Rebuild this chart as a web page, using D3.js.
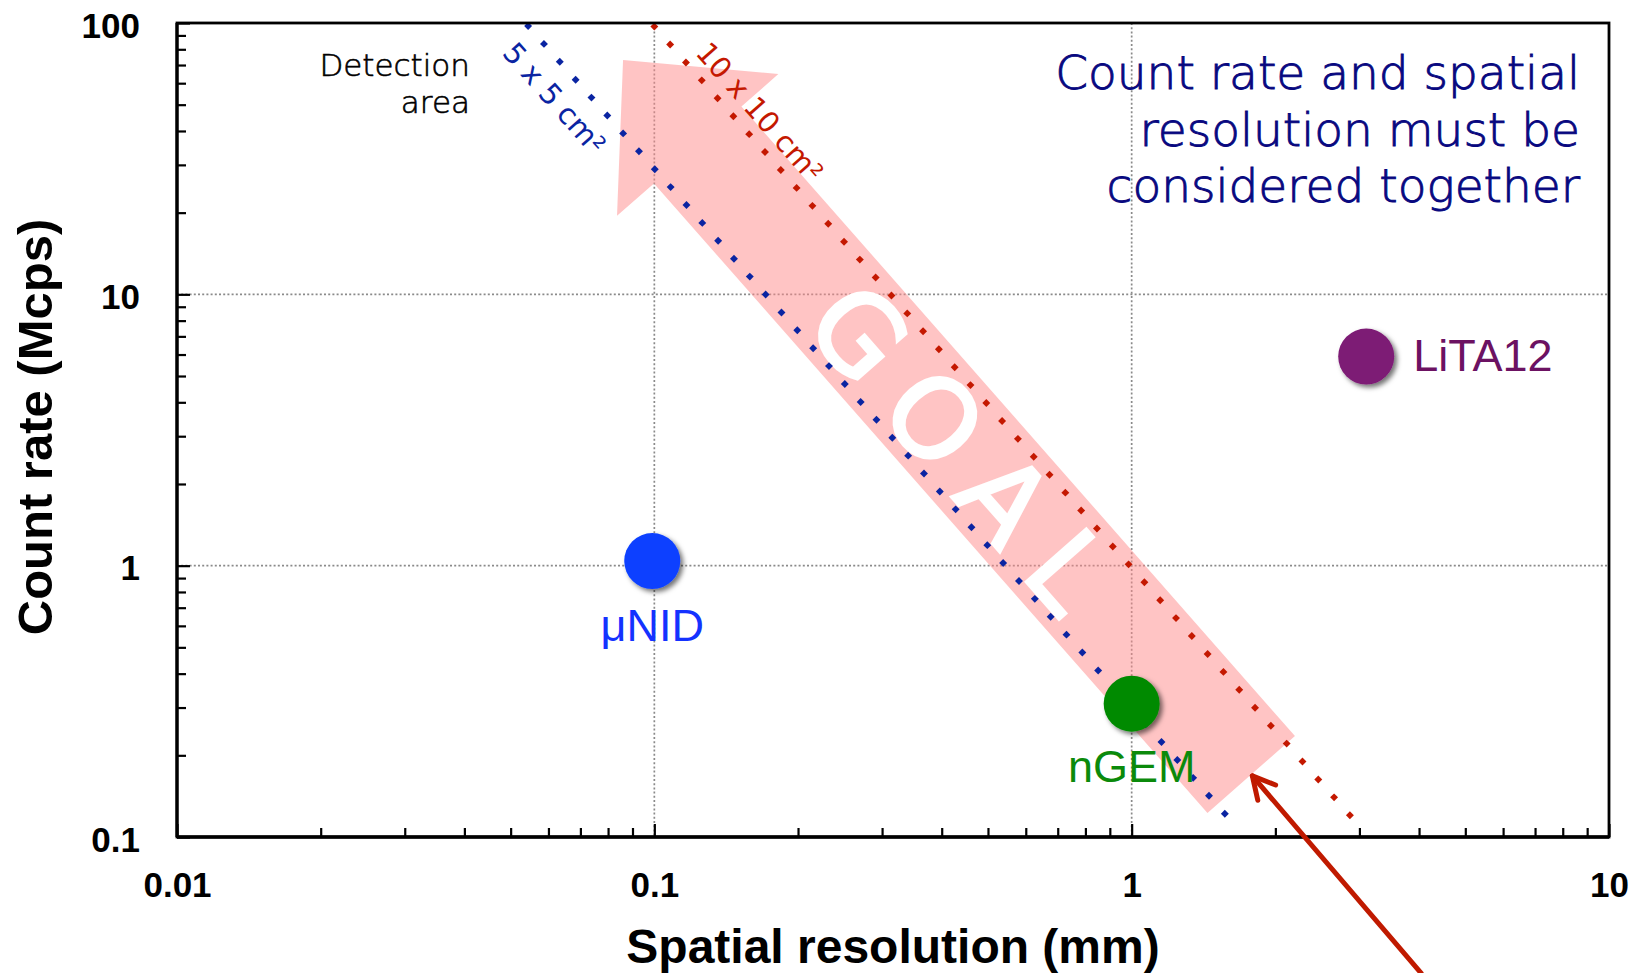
<!DOCTYPE html>
<html>
<head>
<meta charset="utf-8">
<script src="https://cdn.jsdelivr.net/npm/d3@7"></script>
<style>
  html, body { margin: 0; padding: 0; background: #fff; overflow: hidden; }
  svg { display: block; }
</style>
</head>
<body>
<svg id="chart" width="1643" height="973"></svg>
<script>
// Neutron detectors: spatial resolution (mm) against count rate (Mcps)
const detectorNames = ["μNID", "nGEM", "LiTA12"];
const resolutionMm = [0.099, 1.0, 3.1];
const countRateMcps = [1.04, 0.31, 5.9];
const detectorColors = ["#0a40ff", "#008a00", "#7d1a75"];
const detectorTextColors = ["#1432ff", "#0b8a0b", "#6c1262"];

// Detection-area limits, end points of each dotted line (resolution, rate)
const areaLabels = ["5 x 5 cm²", "10 x 10 cm²"];
const areaLineRes = [[0.0544, 1.6], [0.1, 2.93]];
const areaLineRate = [[97.5, 0.117], [97, 0.115]];
const areaLabelRes = [0.055, 0.117];
const areaLabelRate = [96, 73];
const areaColors = ["#0a24a2", "#c41800"];

// GOAL arrow: tail, then tip
const goalRes = [1.78, 0.086];
const goalRate = [0.17, 73];

// Pointer arrow: tail below the frame, head at the GOAL arrow's tail
const pointerRes = [4.04, 1.79];
const pointerRate = [0.0315, 0.168];

// Axis ticks
const xMajor = [0.01, 0.1, 1, 10];
const yMajor = [0.1, 1, 10, 100];
const xTickLabels = ["0.01", "0.1", "1", "10"];
const yTickLabels = ["0.1", "1", "10", "100"];

const noteLines = ["Count rate and spatial", "resolution must be", "considered together"];
const areaHeading = ["Detection", "area"];

const svg = d3.select("#chart");
const L = 177, R = 1609, T = 23, B = 837;

const x = d3.scaleLog().domain([0.01, 10]).range([L, R]);
const y = d3.scaleLog().domain([0.1, 100]).range([B, T]);

svg.append("rect").attr("width", 1643).attr("height", 973).attr("fill", "#fff");

const defs = svg.append("defs");
const sh = defs.append("filter").attr("id", "shadow")
  .attr("x", "-50%").attr("y", "-50%").attr("width", "200%").attr("height", "200%");
sh.append("feDropShadow").attr("dx", 3).attr("dy", 3).attr("stdDeviation", 2.5)
  .attr("flood-color", "#000").attr("flood-opacity", 0.55);

const AX_FONT = "'Liberation Sans', Arial, Helvetica, sans-serif";
const NOTE_FONT = "'DejaVu Sans', Verdana, sans-serif";

// Grid at inner decades
const grid = svg.append("g").attr("stroke", "#8a8a8a").attr("stroke-width", 1.7)
  .attr("stroke-dasharray", "2 2.2");
grid.selectAll("line.vx").data(xMajor.filter(v => v > 0.01 && v < 10)).join("line")
  .attr("x1", d => x(d)).attr("x2", d => x(d)).attr("y1", T).attr("y2", B);
grid.selectAll("line.hy").data(yMajor.filter(v => v > 0.1 && v < 100)).join("line")
  .attr("y1", d => y(d)).attr("y2", d => y(d)).attr("x1", L).attr("x2", R);

// GOAL arrow
{
  const t = [x(goalRes[0]), y(goalRate[0])];
  const p = [x(goalRes[1]), y(goalRate[1])];
  const len = Math.hypot(p[0] - t[0], p[1] - t[1]);
  const u = [(p[0] - t[0]) / len, (p[1] - t[1]) / len];
  const n = [-u[1], u[0]];
  const shaft = 58.25, head = 107.4, headLen = 113;
  const b = [p[0] - u[0] * headLen, p[1] - u[1] * headLen];
  const at = (o, k) => [o[0] + n[0] * k, o[1] + n[1] * k];
  const pts = [at(t, shaft), at(b, shaft), at(b, head), p, at(b, -head), at(b, -shaft), at(t, -shaft)];
  svg.append("path")
    .attr("d", d3.line()(pts) + "Z")
    .attr("fill", "#ff8a8a").attr("fill-opacity", 0.5);

  const ang = Math.atan2(-u[1], -u[0]) * 180 / Math.PI;
  const c = [t[0] + u[0] * 438, t[1] + u[1] * 438];
  svg.append("text")
    .attr("transform", `translate(${c[0]},${c[1]}) rotate(${ang})`)
    .attr("text-anchor", "middle")
    .attr("dx", 14).attr("dy", 42)
    .attr("font-family", NOTE_FONT).attr("font-size", 110)
    .attr("letter-spacing", 28)
    .attr("fill", "#fff").attr("stroke", "#fff").attr("stroke-width", 3)
    .text("GOAL");
}

// Detection-area lines, drawn as diamonds spaced along each path
const areaLine = d3.line().x(d => x(d[0])).y(d => y(d[1]));
areaLabels.forEach((lab, i) => {
  const pts = areaLineRes[i].map((r, j) => [r, areaLineRate[i][j]]);
  const path = svg.append("path").attr("d", areaLine(pts))
    .attr("fill", "none").attr("stroke", "none");
  const node = path.node();
  const total = node.getTotalLength();
  const step = 23.9;
  const spots = d3.range(0, total + 0.5, step).map(s => node.getPointAtLength(s));
  svg.append("g").selectAll("rect").data(spots).join("rect")
    .attr("x", -2.8).attr("y", -2.8).attr("width", 5.6).attr("height", 5.6)
    .attr("transform", d => `translate(${d.x},${d.y}) rotate(45)`)
    .attr("fill", areaColors[i]);

  const a0 = [x(pts[0][0]), y(pts[0][1])], a1 = [x(pts[1][0]), y(pts[1][1])];
  const ang = Math.atan2(a1[1] - a0[1], a1[0] - a0[0]) * 180 / Math.PI;
  const ax = x(areaLabelRes[i]), ay = y(areaLabelRate[i]);
  svg.append("text")
    .attr("transform", `translate(${ax},${ay}) rotate(${ang})`)
    .attr("y", i === 0 ? 39 : -10)
    .attr("font-family", NOTE_FONT).attr("font-size", 29)
    .attr("fill", areaColors[i])
    .text(lab);
});

// Axes: labels outside, ticks inside
const isMajor = (arr, v) => arr.some(m => Math.abs(Math.log10(m) - Math.log10(v)) < 1e-6);

const xTicks = x.ticks();
const yTicks = y.ticks();

const xIn = svg.append("g").attr("transform", `translate(0,${B})`)
  .call(d3.axisTop(x).tickValues(xTicks).tickFormat("").tickSizeOuter(0)
    .tickSize(9));
xIn.selectAll(".tick line").attr("y2", d => isMajor(xMajor, d) ? -13 : -9)
  .attr("stroke", "#000").attr("stroke-width", 2.2);
xIn.select(".domain").remove();

const yIn = svg.append("g").attr("transform", `translate(${L},0)`)
  .call(d3.axisRight(y).tickValues(yTicks).tickFormat("").tickSizeOuter(0)
    .tickSize(9));
yIn.selectAll(".tick line").attr("x2", d => isMajor(yMajor, d) ? 13 : 9)
  .attr("stroke", "#000").attr("stroke-width", 2.2);
yIn.select(".domain").remove();

const xLab = svg.append("g").attr("transform", `translate(0,${B})`)
  .call(d3.axisBottom(x).tickValues(xMajor).tickSize(0).tickPadding(35)
    .tickFormat((d, i) => xTickLabels[i]));
xLab.select(".domain").remove();
xLab.selectAll("text").attr("font-family", AX_FONT).attr("font-size", 35)
  .attr("font-weight", "bold").attr("fill", "#000");

const yLab = svg.append("g").attr("transform", `translate(${L},0)`)
  .call(d3.axisLeft(y).tickValues(yMajor).tickSize(0).tickPadding(37)
    .tickFormat((d, i) => yTickLabels[i]));
yLab.select(".domain").remove();
yLab.selectAll("text").attr("font-family", AX_FONT).attr("font-size", 35)
  .attr("font-weight", "bold").attr("fill", "#000").attr("dy", "0.4em");

// Frame
svg.append("rect").attr("x", L).attr("y", T).attr("width", R - L).attr("height", B - T)
  .attr("fill", "none").attr("stroke", "#000").attr("stroke-width", 2.8);
svg.append("line").attr("x1", L).attr("x2", R).attr("y1", B).attr("y2", B)
  .attr("stroke", "#000").attr("stroke-width", 3.6);
svg.append("line").attr("x1", L).attr("x2", L).attr("y1", T).attr("y2", B)
  .attr("stroke", "#000").attr("stroke-width", 3.2);

// Axis titles
svg.append("text")
  .attr("x", (L + R) / 2).attr("y", 963)
  .attr("text-anchor", "middle")
  .attr("font-family", AX_FONT).attr("font-size", 48).attr("font-weight", "bold")
  .text("Spatial resolution (mm)");
svg.append("text")
  .attr("transform", "translate(52,427) rotate(-90)")
  .attr("text-anchor", "middle")
  .attr("font-family", AX_FONT).attr("font-size", 49).attr("font-weight", "bold")
  .text("Count rate (Mcps)");

// Detectors
const pts = detectorNames.map((name, i) => ({
  name, r: resolutionMm[i], c: countRateMcps[i], color: detectorColors[i], tc: detectorTextColors[i]
}));
svg.append("g").selectAll("circle").data(pts).join("circle")
  .attr("cx", d => x(d.r)).attr("cy", d => y(d.c)).attr("r", 28)
  .attr("fill", d => d.color).attr("filter", "url(#shadow)");

const labelPlace = [
  { dx: 0, dy: 80, anchor: "middle" },
  { dx: 0, dy: 78, anchor: "middle" },
  { dx: 47, dy: 14, anchor: "start" }
];
svg.append("g").selectAll("text").data(pts).join("text")
  .attr("x", (d, i) => x(d.r) + labelPlace[i].dx)
  .attr("y", (d, i) => y(d.c) + labelPlace[i].dy)
  .attr("text-anchor", (d, i) => labelPlace[i].anchor)
  .attr("font-family", AX_FONT).attr("font-size", 45)
  .attr("fill", d => d.tc)
  .text(d => d.name);

// Notes
const note = svg.append("text")
  .attr("text-anchor", "end")
  .attr("font-family", NOTE_FONT).attr("font-weight", 200).attr("font-size", 47)
  .attr("fill", "#08087f").attr("stroke", "#08087f").attr("stroke-width", 0.9);
noteLines.forEach((s, i) => note.append("tspan").attr("x", 1580).attr("y", 89 + i * 56.5).text(s));

const head = svg.append("text")
  .attr("text-anchor", "end")
  .attr("font-family", NOTE_FONT).attr("font-weight", 200).attr("font-size", 31)
  .attr("fill", "#000").attr("stroke", "#000").attr("stroke-width", 0.6);
areaHeading.forEach((s, i) => head.append("tspan").attr("x", 470).attr("y", 76 + i * 37).text(s));

// Pointer arrow
{
  const t = [x(pointerRes[0]), y(pointerRate[0])];
  const p = [x(pointerRes[1]), y(pointerRate[1])];
  const len = Math.hypot(t[0] - p[0], t[1] - p[1]);
  const u = [(t[0] - p[0]) / len, (t[1] - p[1]) / len];
  const rot = (v, a) => [v[0] * Math.cos(a) - v[1] * Math.sin(a), v[0] * Math.sin(a) + v[1] * Math.cos(a)];
  const a = 28 * Math.PI / 180, bl = 25;
  const b1 = rot(u, a), b2 = rot(u, -a);
  const g = svg.append("g").attr("stroke", "#c01a00").attr("stroke-width", 5)
    .attr("fill", "none").attr("stroke-linecap", "round").attr("stroke-linejoin", "round");
  g.append("path").attr("d", d3.line()([t, p]));
  g.append("path").attr("d", d3.line()([
    [p[0] + b1[0] * bl, p[1] + b1[1] * bl], p, [p[0] + b2[0] * bl, p[1] + b2[1] * bl]
  ]));
}
</script>
</body>
</html>
